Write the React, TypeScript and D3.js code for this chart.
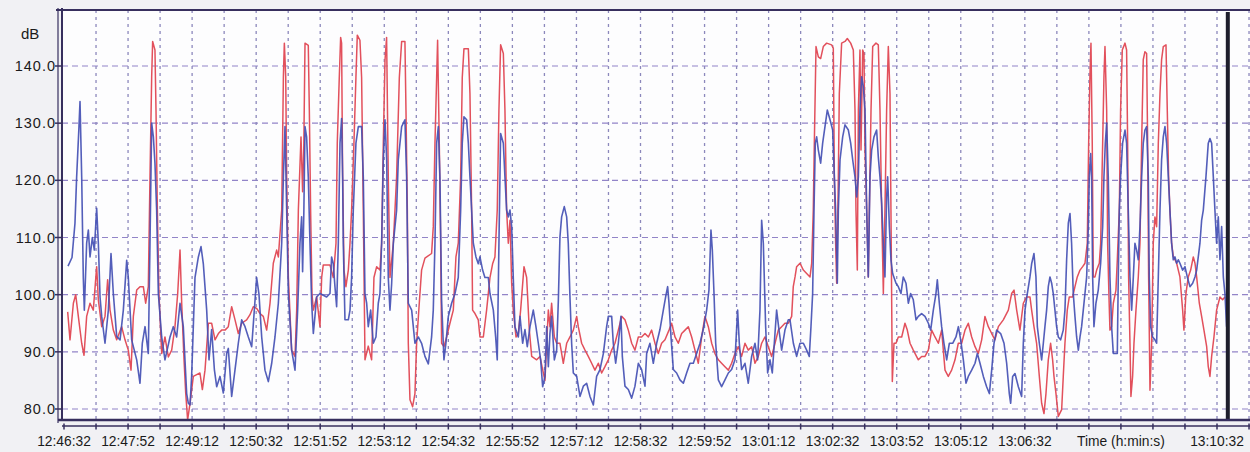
import React from "react";
import * as d3 from "d3";

// time axis: seconds after 12:46:32
const redTime = [
  4.6, 7.5, 11.7, 14.6, 17.9, 22.1, 25, 28.3, 32.5, 36.6, 40.8, 42.9, 47.1, 51.2, 54.5, 57.5, 61.6, 65.8, 72, 76.2,
  80.3, 83.7, 86.6, 90.8, 94.9, 99.1, 102, 105.3, 107.4, 109.5, 110.7, 113.6, 114.9, 116.6, 118.6, 122, 126.1, 130.3, 134.5, 138.6,
  142, 144.9, 147, 149.9, 152, 154.4, 157.4, 161.5, 165.7, 169.8, 172.8, 176.1, 180.3, 184.4, 188.6, 192.8, 196.9, 201.1, 205.2, 209.4,
  213.6, 217.7, 221.9, 228.1, 232.3, 236.4, 240.6, 244.8, 248.9, 253.1, 257.3, 261.4, 265.6, 267.7, 271.9, 274, 275.2, 276.9, 278.1, 280.2,
  284.3, 288.5, 290.6, 292.7, 296, 298, 299.5, 301, 305.1, 306.4, 308, 309.7, 311.4, 315.5, 319.7, 321.8, 323.8, 332.2, 336.3, 339.7,
  341.3, 343.8, 345.5, 346.7, 348, 349.7, 352.1, 355.1, 357.2, 359.2, 362.1, 364.6, 366.3, 369.6, 371.7, 373.8, 375.9, 380, 384.2, 387.1,
  390.5, 394.6, 396.7, 398.8, 400.9, 402.9, 405, 407.1, 411.3, 415.4, 418.8, 421.7, 425.8, 427.1, 428.8, 430, 432.1, 435.4, 438.3, 440.4,
  443.7, 446.6, 450.8, 459.1, 461.2, 463.3, 465.4, 466.6, 468.7, 470.4, 471.6, 474.5, 477.9, 482, 486.2, 489.5, 492.4, 495.4, 497.4, 499.5,
  505, 507, 509.1, 510.3, 513.3, 517.4, 519.5, 523.7, 527.8, 532, 535.3, 538.2, 541.1, 543.2, 545.3, 548.7, 550.7, 552.8, 554.9, 557,
  559.1, 561.1, 564.5, 567.4, 570.3, 574.5, 577.8, 581.1, 584.1, 590.3, 594.4, 597.8, 600.7, 602.8, 604.9, 606.9, 609, 612.4, 615.3, 619.4,
  623.6, 627.8, 631.9, 636.1, 640.3, 642.3, 646.5, 650.7, 654.8, 659, 663.1, 667.3, 671.5, 675.6, 679.8, 684, 688.1, 692.3, 696.5, 700.6,
  704.8, 709, 713.1, 717.3, 721.4, 725.6, 729.8, 733.9, 738.1, 742.2, 746.4, 750.6, 755.6, 758.9, 763.1, 767.2, 771.4, 775.6, 779.7, 783.9,
  788, 792.2, 796.4, 800.5, 804.7, 808.9, 813, 817.2, 821.3, 825.5, 829.7, 833.8, 838, 842.2, 846.3, 850.5, 854.6, 858.8, 863, 867.1,
  871.3, 875.5, 879.6, 883.8, 888, 892.1, 896.3, 900.4, 904.6, 908.8, 910.8, 913, 915, 919.2, 923.4, 927.5, 931.7, 933.8, 935.8, 937.1,
  939.2, 942.1, 945, 948.3, 952.5, 958.7, 960.8, 962.1, 963.7, 965, 967.1, 968.3, 971.2, 975.4, 978.3, 982.5, 985.8, 987.9, 989.1, 990.8,
  992.1, 994.1, 995.4, 997.5, 999.1, 1000.4, 1002.5, 1004.5, 1005.8, 1007.9, 1010, 1014.1, 1017, 1019.1, 1021.2, 1023.3, 1025.3, 1027.4, 1029.5, 1031.6,
  1032.8, 1034.5, 1036.6, 1039.1, 1042, 1046.2, 1050.3, 1053.2, 1056.6, 1060.7, 1067, 1071.1, 1075.3, 1079.5, 1083.6, 1087.8, 1092, 1096.1, 1100.3, 1104.4,
  1108.6, 1112.8, 1116.9, 1121.1, 1125.3, 1129.4, 1133.6, 1137.8, 1141.9, 1146.1, 1150.2, 1154.4, 1158.6, 1162.7, 1166.9, 1173.1, 1179.4, 1183.5, 1186.5, 1189.8,
  1193.9, 1198.1, 1202.3, 1206.4, 1208.5, 1211.4, 1214.7, 1218.1, 1221, 1223.9, 1226.4, 1229.3, 1232.2, 1234.7, 1236.4, 1238.9, 1241.8, 1246, 1248, 1250.1,
  1253, 1255.5, 1259.7, 1262.6, 1265.5, 1268.9, 1272.2, 1275.1, 1278, 1279.7, 1281.3, 1282.6, 1284.2, 1285.5, 1287.6, 1289.7, 1293, 1294.7, 1297.2, 1298.8,
  1300.1, 1302.2, 1303.4, 1305.1, 1306.3, 1308.4, 1310.5, 1313.8, 1315.5, 1318, 1319.6, 1321.7, 1325.1, 1327.1, 1328.4, 1329.6, 1331.3, 1332.5, 1334.6, 1336.3,
  1338.8, 1341.7, 1343.8, 1345.9, 1347.9, 1350, 1352.1, 1353.4, 1354.6, 1356.3, 1358.4, 1360.4, 1362.5, 1364.6, 1366.7, 1368.8, 1370.8, 1372.9, 1376.3, 1377.9,
  1379.6, 1381.2, 1383.3, 1385.4, 1389.6, 1393.7, 1397.1, 1398.7, 1401.2, 1404.1, 1407.1, 1410.4, 1412.5, 1414.6, 1417.9, 1420.8, 1423.7, 1427.1, 1429.1, 1431.2,
  1433.3, 1436.2, 1439.5, 1443.7, 1447, 1449.9,
];
const redDb = [
  97, 92.1, 98.5, 100, 96.2, 91.5, 89.4, 96.2, 98.5, 97.3, 104.9, 99.1, 94.4, 96.2, 102.6, 97.3, 93.8, 92.1, 94.4, 92.1,
  90.3, 86.8, 96.2, 100.8, 101.4, 101.4, 98.5, 101.4, 120.6, 138.1, 144.3, 142.8, 132.3, 114.8, 100.2, 89.7, 92.6, 89.1, 90.3, 94.4,
  100.2, 107.8, 98.5, 88.6, 82.8, 78.1, 81, 85.7, 86, 86.3, 83.4, 86.8, 95, 95, 92.1, 93.2, 93.8, 93.8, 94.4, 97.9,
  95.6, 93.2, 95, 95.6, 96.5, 97.9, 97.6, 96.7, 96.2, 93.8, 98.5, 105.5, 107.8, 106.6, 114.8, 138.1, 144, 138.1, 120.6, 103.1,
  90.3, 89.2, 97.3, 114.8, 127.6, 118, 126, 144, 143.6, 132.3, 114.8, 100.2, 97.3, 99.6, 94.4, 103, 105.2, 105.2, 103, 109,
  126.5, 138, 145, 144, 120.6, 104.3, 101.4, 104.3, 109, 114.8, 126.5, 138, 145.4, 144.5, 138, 114.8, 88.6, 91, 88.6, 103,
  104.9, 104.3, 109, 126.5, 141, 145, 120.6, 103, 109, 120.6, 138, 144.3, 144.3, 132.3, 114.8, 91.5, 81.6, 80.4, 82.7, 91.5,
  98.5, 104.3, 106.4, 107.2, 111.9, 126.5, 138, 144.5, 126.5, 109, 91.5, 90.9, 92.6, 95, 97.3, 106.6, 109, 120.6, 138, 143,
  143, 135.2, 114.8, 97.3, 96.7, 95.6, 92.6, 92.6, 97.3, 103, 105.4, 106.6, 114.8, 132.3, 143.7, 142.2, 132.3, 114.8, 109, 113,
  102, 97.3, 92.6, 93.2, 97.3, 104.9, 103, 93.9, 89.2, 88.6, 89.2, 86.9, 85, 91.5, 97.3, 94.4, 98.5, 92.6, 91.5, 91.5,
  88, 91.5, 92.6, 93.8, 96.2, 94.4, 91.5, 90.3, 89.2, 88, 86.8, 88, 86.3, 87.4, 88.6, 90.3, 91.5, 93.8, 96.2, 95.6,
  93.8, 91.5, 90.3, 92.6, 92.6, 93.2, 92.6, 93.8, 91.5, 89.7, 91.5, 92.1, 93.8, 95, 92.6, 91.5, 93.2, 93.8, 94.4, 92.6,
  90.3, 88, 92.6, 96.2, 94.4, 91.5, 89.7, 88.6, 88, 87.4, 86.8, 88, 89.7, 90.9, 89.2, 91.5, 90.3, 90.9, 88, 89.2,
  91.5, 92.6, 90.9, 89.2, 91.5, 93.8, 94.4, 95, 95, 96.2, 101.4, 103.1, 104.9, 105.5, 104.3, 103.7, 103.1, 105.5, 114.8, 126.5,
  143.4, 141.6, 141.3, 143.4, 144, 143.7, 143.1, 120.6, 109, 102, 120.6, 135.2, 144, 144.3, 144.8, 144, 142.8, 132.3, 114.8, 104.3,
  132.3, 142.8, 125.3, 142.8, 142.2, 125.3, 114.8, 103.1, 114.8, 132.3, 143.4, 144, 143.7, 132.3, 114.8, 100.2, 114.8, 132.3, 143.4, 135.2,
  114.8, 84.8, 91.5, 91.5, 92.6, 92.6, 95, 93.8, 91.5, 90.3, 88.6, 89.2, 89.2, 90.3, 93.8, 92.6, 91.5, 93.8, 86.8, 85.7,
  86.8, 88.6, 91.5, 91.5, 93.8, 95, 92.6, 90.9, 89.7, 92.1, 96.2, 94.4, 93.2, 92.1, 94.4, 95.6, 97.3, 100.2, 100.8, 97.3,
  93.8, 98.5, 99.6, 99.6, 97.3, 94.4, 91.5, 85.7, 81, 79.2, 82.7, 88.6, 91.5, 88.6, 85.7, 82.7, 78.7, 79.9, 85.7, 91.5,
  97.3, 99.6, 99.6, 101.4, 103.1, 104.3, 104.9, 105.5, 109, 126.5, 138.1, 144, 126.5, 103.1, 103.1, 104.3, 105.5, 109, 126.5, 138.1,
  143.4, 132.3, 109, 99.6, 93.8, 94.4, 98.5, 100.8, 106.1, 114.8, 132.3, 142.8, 144, 142.8, 126.5, 103.1, 91.5, 82.2, 85.7, 91.5,
  97.3, 103.1, 109, 126.5, 141.1, 142.5, 142.2, 126.5, 103.1, 83.3, 91.5, 109, 113.6, 111.9, 126.5, 135.2, 141.1, 143.4, 143.7, 132.3,
  120.6, 114.8, 109, 106.7, 105.5, 103.1, 97.3, 93.8, 100.2, 103.1, 104.3, 106.6, 105.5, 103.1, 98.5, 96.2, 93.8, 90.9, 87.4, 85.7,
  89.2, 92.6, 97.3, 99.6, 99.1, 99.6,
];

const blueTime = [
  5, 10, 13.7, 15.8, 18.7, 20, 22.1, 24.1, 25.4, 28.3, 30.4, 32.5, 35.4, 37.9, 40.8, 42.9, 45, 47.1, 51.2, 55.4,
  58.7, 61.6, 65.8, 70, 74.1, 78.3, 80.3, 84.5, 90.8, 94.9, 97.8, 101.2, 105.3, 107.4, 109.5, 111.6, 113.6, 115.7, 117.8, 122,
  126.1, 132.4, 136.5, 140.7, 144.9, 149, 153.2, 155.3, 157.4, 159.4, 163.6, 167.8, 171.1, 174, 178.2, 181.1, 184.4, 187.8, 190.7, 194.8,
  199, 203.2, 205.2, 209.4, 213.6, 217.7, 221.9, 226.1, 230.2, 234.4, 237.7, 240.6, 243.5, 246.9, 251, 255.2, 259.4, 263.5, 267.7, 271.9,
  274, 276, 278.1, 280.2, 284.3, 288.5, 291.8, 294.7, 296.8, 298, 299.5, 301, 303, 305.1, 307.2, 309.3, 311.4, 313.4, 315.5, 319.7,
  328, 332.2, 334.2, 336.3, 338.4, 340.5, 342.6, 344.7, 346.7, 348, 348.8, 350.9, 355.1, 357.2, 359.2, 361.3, 364.6, 367.6, 371.7, 373.8,
  375.9, 378, 380, 383, 386.3, 389.6, 392.5, 394.6, 396.7, 398.8, 400.9, 403, 405, 407.1, 409.2, 411.3, 415.4, 417.5, 421.7, 425.8,
  427.9, 430, 434.2, 438.3, 442.5, 446.6, 450.8, 455, 459.1, 461.2, 463.3, 465.4, 467.5, 469.5, 471.6, 474.5, 477, 480, 484.1, 488.3,
  492.4, 495.4, 497.4, 499.5, 502.9, 505, 507, 509.1, 511.2, 514.5, 517.4, 519.5, 522.8, 525.7, 529.9, 532, 536.2, 539.1, 541.1, 543.2,
  545.3, 548.7, 550.7, 552.8, 554.9, 557, 559.1, 561.1, 563.2, 567.4, 569.5, 572.8, 575.7, 578.6, 582, 586.1, 589.4, 592.4, 595.3, 597.8,
  600.7, 602.8, 604.9, 606.9, 609, 612.4, 615.3, 617.4, 619.4, 621.5, 624.8, 627.8, 629.8, 631.9, 634, 636.1, 640.3, 644.4, 648.6, 652.7,
  656.9, 661.1, 665.2, 669.4, 673.6, 677.7, 679.8, 684, 686, 689, 692.3, 695.6, 697.3, 700.6, 704.8, 709, 713.1, 717.3, 721.4, 725.6,
  727.7, 731.8, 736, 740.2, 744.3, 748.5, 751.4, 753.9, 755.6, 758.1, 761, 765.1, 769.3, 773.5, 777.6, 781.8, 786, 790.1, 794.3, 798.4,
  802.6, 805.5, 808, 809.7, 811.8, 813.9, 817.2, 821.3, 825.5, 829.7, 833.8, 838, 841.3, 843.4, 846.3, 850.5, 854.6, 858.8, 863, 866.3,
  869.2, 871.3, 873.4, 876.3, 878.8, 881.7, 884.6, 887.1, 890, 893, 896.3, 900.4, 904.6, 906.7, 910.9, 915, 919.2, 923.4, 927.5, 930.8,
  932.9, 935, 936.7, 938.3, 940, 942.1, 945, 947.5, 950.4, 953.3, 956.7, 960, 962.1, 963.7, 965.8, 967.1, 969.2, 972.5, 975.4, 979.6,
  982.5, 985, 987.9, 990, 992.1, 994.1, 996.2, 998.3, 1000.4, 1002.5, 1004.5, 1006.6, 1008.7, 1011.6, 1014.9, 1017, 1019.1, 1021.2, 1023.3, 1025.3,
  1027.4, 1028.7, 1030.8, 1032.8, 1034.9, 1039.1, 1042, 1045.3, 1048.2, 1051.6, 1054.5, 1057.4, 1060.7, 1064.1, 1067, 1071.1, 1075.3, 1079.5, 1082.4, 1085.7,
  1089, 1090.7, 1093.2, 1096.1, 1099, 1102.4, 1105.7, 1109.9, 1114, 1117, 1119.9, 1123.2, 1126.5, 1129.4, 1133.6, 1137.8, 1140.7, 1144, 1148.2, 1152.3,
  1155.7, 1158.6, 1161.5, 1164.8, 1169.8, 1174, 1177.3, 1180.6, 1182.3, 1184.8, 1187.7, 1191.9, 1196, 1198.1, 1200.2, 1203.1, 1206.4, 1208.5, 1211.4, 1213.9,
  1215.6, 1218.1, 1221, 1223.1, 1225.1, 1227.2, 1229.3, 1231.4, 1233.5, 1235.5, 1237.6, 1239.7, 1241.8, 1244.7, 1248, 1250.1, 1252.2, 1254.3, 1256.4, 1258.4,
  1260.5, 1262.6, 1264.7, 1266.8, 1268.9, 1270.9, 1273, 1275.1, 1277.2, 1279.3, 1280.5, 1282.2, 1283.4, 1284.7, 1286.3, 1288.8, 1291.7, 1294.7, 1297.2, 1298.8,
  1300.5, 1302.2, 1304.2, 1306.3, 1308.4, 1310.5, 1315.5, 1316.7, 1318, 1319.6, 1322.1, 1325.1, 1327.1, 1329.2, 1331.3, 1333.4, 1335.5, 1337.5, 1339.6, 1341.7,
  1343.8, 1345.9, 1347.9, 1350, 1352.1, 1354.2, 1355.4, 1357.1, 1359.6, 1362.5, 1364.6, 1366.7, 1368.8, 1370.8, 1372.9, 1375, 1377.1, 1379.2, 1381.2, 1383.3,
  1385.4, 1387.5, 1389.6, 1391.7, 1393.7, 1397.1, 1400, 1402.9, 1406.2, 1409.6, 1412.5, 1414.6, 1416.6, 1418.7, 1420.8, 1422.9, 1426.2, 1429.1, 1431.2, 1433.3,
  1435.4, 1437.4, 1439.5, 1441.6, 1443.7, 1445.8, 1447.9, 1449.9, 1452,
];
const blueDb = [
  105, 106.5, 112.5, 120.6, 129.4, 133.8, 120.6, 103, 97.3, 109, 111.3, 106.6, 110, 107.8, 115.1, 109, 99.6, 96.2, 91.5, 97.3,
  107.2, 100.2, 92.7, 92.1, 97.3, 106, 103, 92.1, 88.6, 84.5, 91.5, 94.4, 89.7, 109, 130, 127.6, 123, 114.8, 100.2, 92.6,
  88.6, 92.6, 94.4, 92.6, 98.5, 94.4, 82.7, 81, 80.7, 85.7, 103, 106.6, 108.4, 105.4, 97.3, 88.6, 93.9, 86.9, 83.9, 85.7,
  82.8, 89.7, 90.6, 82.2, 86.9, 91.5, 95.6, 94.4, 92.6, 90.9, 97.3, 103, 100.1, 92.6, 86.8, 84.8, 88, 92.6, 98.5, 109,
  120.6, 129.4, 114.8, 100.2, 90.3, 86.8, 97.3, 109, 113.6, 104, 114, 129.4, 127.6, 120.6, 109, 98.5, 93.2, 96.2, 99.6, 100.2,
  99.6, 100.2, 106.6, 105.4, 101.4, 97.9, 109, 126.5, 130.8, 120.6, 109, 95.6, 95.6, 97.3, 103, 114.8, 126.5, 129.4, 129.4, 120.6,
  100.2, 98.5, 94.4, 97.3, 91.5, 92.6, 98.5, 100.2, 109, 123.6, 130.6, 123.6, 103, 97.3, 101.9, 109, 114.8, 123.6, 129.4, 130.6,
  120.6, 98.5, 97.3, 91.5, 92.6, 91.5, 89.2, 87.9, 92.6, 97.3, 109, 126.5, 129.4, 120.6, 99, 88.6, 91.5, 96.2, 98.5, 100.2,
  103, 114.8, 126.5, 131.1, 130.6, 126.5, 120.6, 114.8, 109, 106.6, 105.4, 106.6, 104.3, 103, 103, 100.2, 97.3, 92.6, 88.6, 109,
  128.2, 126.5, 120.6, 114.8, 113.6, 114.8, 111.9, 103, 94.4, 92.6, 96.2, 91.5, 93.9, 90.9, 94.4, 97.3, 94.4, 91.5, 88.6, 83.9,
  85.7, 94.4, 87.4, 93.2, 96.2, 88.6, 90.3, 99, 110.1, 113.6, 115.4, 113.6, 109, 99.6, 91.5, 86.3, 85.7, 82.2, 84, 84.5,
  82.2, 80.7, 85.7, 86.9, 89.7, 94.4, 96.2, 96.2, 91.5, 88, 91.5, 96.2, 89.2, 84, 83.4, 81.9, 84, 88, 86.9, 84,
  89.7, 91.5, 88, 91.5, 93.9, 97.3, 99.6, 101.4, 98.5, 92.6, 86.9, 86.3, 85.1, 84.5, 86.3, 88, 88, 89.7, 91.5, 93.9,
  97.3, 100.8, 111.3, 107.8, 100.2, 91.5, 85.1, 83.9, 85.1, 86.3, 86.9, 88.6, 97.3, 91.5, 86.9, 88, 84.5, 89.2, 91.5, 88.6,
  97.3, 113, 109, 94.4, 86.3, 88.6, 86.3, 91.5, 97.3, 93.8, 90.3, 93.8, 95.6, 95.6, 91.5, 89.2, 91.5, 91.5, 90.3, 89.2,
  94.4, 100.2, 114.8, 126.5, 127.6, 125.3, 123, 126.5, 129.4, 132.3, 130.6, 128.8, 120.6, 114.8, 102, 114.8, 123.6, 127.6, 129.7, 128.8,
  126.5, 123.6, 120.6, 117.1, 120.6, 132.3, 138.1, 136.4, 132.3, 114.8, 103.1, 120.6, 125.3, 127.6, 128.8, 124.1, 120.6, 116, 109, 103.1,
  117.1, 120.6, 111.9, 106.1, 103.7, 102, 101.4, 100.2, 103.1, 102, 98.5, 100.2, 99.1, 95.6, 96.2, 96.7, 96.2, 95, 93.8, 97.3,
  100.2, 102.6, 98.5, 94.4, 91.5, 88.6, 91.5, 91.5, 92.6, 94.4, 92.1, 88.6, 84.5, 85.7, 86.8, 88, 89.7, 88, 85.7, 83.9,
  82.7, 86.8, 91.5, 93.8, 93.2, 91.5, 88, 82.7, 81, 85.7, 86.2, 83.9, 82.2, 91.5, 97.3, 100.2, 103.1, 105.4, 107.2, 103.1,
  94.4, 91.5, 88.6, 91.5, 94.4, 97.3, 101.4, 103.1, 102, 100.2, 97.3, 94.4, 92.6, 92.1, 93.8, 97.3, 106.1, 112.5, 114.2, 109,
  100.2, 96.2, 92.6, 90.3, 92.6, 94.4, 97.3, 100.2, 103.1, 111.9, 120.6, 124.7, 120.6, 103.1, 94.4, 98.5, 100.8, 105.5, 111.9, 120.6,
  126.5, 130, 120.6, 103.1, 94.4, 89.7, 89.7, 103.1, 114.8, 120.6, 126.5, 128.8, 126.5, 114.8, 103.1, 97.3, 103.1, 109, 107.8, 106.1,
  111.9, 120.6, 126.5, 128.8, 129.4, 120.6, 103.1, 94.4, 92.6, 92.1, 91.5, 103.1, 114.8, 123.6, 127.6, 129.4, 126.5, 120.6, 114.8, 109,
  106.1, 106.6, 105.5, 106.1, 105.5, 104.3, 104.9, 103.1, 101.4, 102, 103.1, 104.3, 106.6, 109, 113, 114.8, 120.6, 126.5, 127.3, 126.5,
  120.6, 114.8, 109, 113.6, 106.1, 111.9, 103.1, 100.2, 94.4,
];

const dbTicks = [80, 90, 100, 110, 120, 130, 140];
const timeTickSec = [0, 80, 160, 240, 320, 400, 480, 560, 640, 720, 800, 880, 960, 1040, 1120, 1200, 1440];
const timeTickLabels = [
  "12:46:32", "12:47:52", "12:49:12", "12:50:32", "12:51:52", "12:53:12", "12:54:32", "12:55:52", "12:57:12",
  "12:58:32", "12:59:52", "13:01:12", "13:02:32", "13:03:52", "13:05:12", "13:06:32", "13:10:32",
];
const axisTitle = "Time (h:min:s)";
const axisTitleSec = 1320;
const cursorSec = 1453.5;

const W = 1250;
const H = 452;
const plot = { left: 62, top: 10, right: 1250, bottom: 420 };

const x = d3.scaleLinear().domain([0, 1440]).range([64, 1217]);
const y = d3.scaleLinear().domain([80, 140]).range([409, 66]);

const frame = "#372f5e";
const font = "'Liberation Sans', Arial, sans-serif";

export default function App() {
  const redLine = d3
    .line<number>()
    .x((_, i) => x(redTime[i]))
    .y((d) => y(d));
  const blueLine = d3
    .line<number>()
    .x((_, i) => x(blueTime[i]))
    .y((d) => y(d));

  const gridSec = d3.range(40, 1481, 40);

  return (
    <svg
      width={W}
      height={H}
      style={{ position: "absolute", left: 0, top: 0, display: "block" }}
      fontFamily={font}
    >
      <rect width={W} height={H} fill="#f1f1f4" />
      <rect
        x={plot.left}
        y={plot.top}
        width={plot.right - plot.left}
        height={plot.bottom - plot.top}
        fill="#fdfdfe"
      />

      {/* grid */}
      {dbTicks.map((d) => (
        <line
          key={"h" + d}
          x1={plot.left}
          x2={plot.right}
          y1={y(d)}
          y2={y(d)}
          stroke="#9284c8"
          strokeWidth={1.2}
          strokeDasharray="6 4"
        />
      ))}
      {gridSec.map((s) => (
        <line
          key={"v" + s}
          x1={x(s)}
          x2={x(s)}
          y1={plot.top}
          y2={plot.bottom}
          stroke="#8c88bc"
          strokeWidth={1.3}
          strokeDasharray="3 4"
        />
      ))}

      {/* series */}
      <path d={redLine(redDb) ?? ""} fill="none" stroke="#e2505c" strokeWidth={1.5} strokeLinejoin="round" />
      <path
        d={blueLine(blueDb) ?? ""}
        fill="none"
        stroke="#4450b4"
        strokeWidth={1.6}
        strokeLinejoin="round"
        opacity={0.92}
      />

      {/* cursor bar */}
      <rect x={x(cursorSec) - 2} y={plot.top + 2} width={4} height={plot.bottom - plot.top - 2} fill="#1e1e2c" />

      {/* frame */}
      <line x1={56} x2={W} y1={plot.top} y2={plot.top} stroke={frame} strokeWidth={2} />
      <line x1={58} x2={58} y1={plot.top - 2} y2={plot.bottom + 3} stroke={frame} strokeWidth={1.2} />
      <line x1={62} x2={62} y1={plot.top - 2} y2={plot.bottom} stroke={frame} strokeWidth={2} />
      <line x1={58} x2={W} y1={plot.bottom} y2={plot.bottom} stroke={frame} strokeWidth={2.4} />
      <line x1={62} x2={W} y1={426} y2={426} stroke={frame} strokeWidth={1.5} />
      {[0, ...gridSec].map((s) => (
        <line key={"t" + s} x1={x(s)} x2={x(s)} y1={423.5} y2={429.5} stroke={frame} strokeWidth={1.5} />
      ))}
      {dbTicks.map((d) => (
        <line key={"yt" + d} x1={55} x2={62} y1={y(d)} y2={y(d)} stroke={frame} strokeWidth={1.5} />
      ))}

      {/* labels */}
      <text x={21} y={39} fontSize={15} fill="#1a1a1a">
        dB
      </text>
      {dbTicks.map((d) => (
        <text
          key={"yl" + d}
          x={56}
          y={y(d) + 5}
          textAnchor="end"
          fontSize={14.5}
          letterSpacing={1}
          fill="#1a1a1a"
        >
          {d.toFixed(1)}
        </text>
      ))}
      {timeTickSec.map((s, i) => (
        <text key={"xl" + s} x={x(s)} y={446} textAnchor="middle" fontSize={13.8} fill="#1a1a1a">
          {timeTickLabels[i]}
        </text>
      ))}
      <text x={x(axisTitleSec)} y={446} textAnchor="middle" fontSize={13.8} fill="#1a1a1a">
        {axisTitle}
      </text>
    </svg>
  );
}
